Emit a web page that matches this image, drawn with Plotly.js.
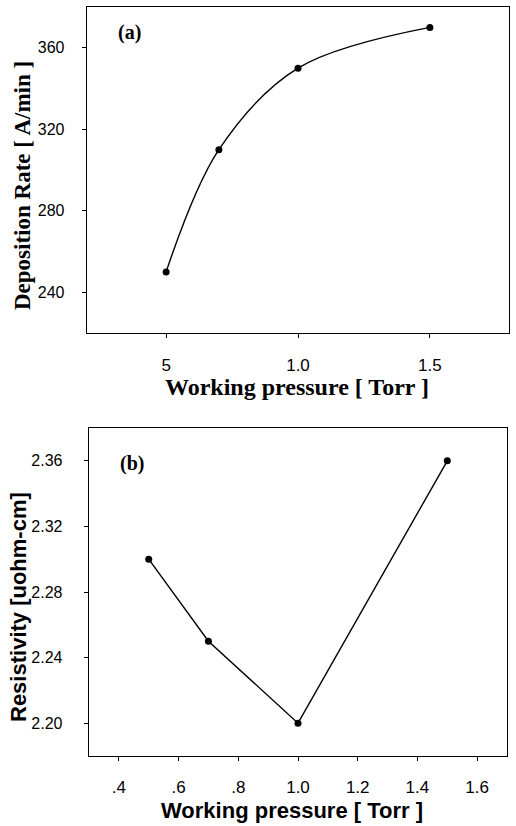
<!DOCTYPE html>
<html>
<head>
<meta charset="utf-8">
<script src="https://cdn.plot.ly/plotly-3.0.1.min.js"></script>
<style>html,body{margin:0;padding:0;background:#fff;}#chart{width:516px;height:826px;}</style>
</head>
<body>
<div id="chart"></div>
<script>
// Panel (a): deposition rate vs working pressure
const pressureA = [0.5, 0.7, 1.0, 1.5];
const depositionRate = [250, 310, 350, 370];
const xTickValsA = [0.5, 1.0, 1.5];
const xTickTextA = ['5', '1.0', '1.5'];
const yTickValsA = [240, 280, 320, 360];

// Panel (b): resistivity vs working pressure
const pressureB = [0.5, 0.7, 1.0, 1.5];
const resistivity = [2.30, 2.25, 2.20, 2.36];
const xTickValsB = [0.4, 0.6, 0.8, 1.0, 1.2, 1.4, 1.6];
const xTickTextB = ['.4', '.6', '.8', '1.0', '1.2', '1.4', '1.6'];
const yTickValsB = [2.20, 2.24, 2.28, 2.32, 2.36];
const yTickTextB = ['2.20', '2.24', '2.28', '2.32', '2.36'];

const serif = '"Liberation Serif", "Times New Roman", serif';
const sans = '"Liberation Sans", Arial, sans-serif';

const W = 516, H = 826;
const px = v => v / W;
const py = v => 1 - v / H;

const traces = [
  {
    x: pressureA, y: depositionRate, xaxis: 'x', yaxis: 'y',
    mode: 'lines+markers', type: 'scatter',
    line: {color: '#000', width: 1.4, shape: 'spline', smoothing: 1.0},
    marker: {color: '#000', size: 7}
  },
  {
    x: pressureB, y: resistivity, xaxis: 'x2', yaxis: 'y2',
    mode: 'lines+markers', type: 'scatter',
    line: {color: '#000', width: 1.4},
    marker: {color: '#000', size: 7}
  }
];

const axisCommon = {
  showline: true, mirror: true, linecolor: '#000', linewidth: 1.3,
  showgrid: false, zeroline: false,
  ticks: 'outside', ticklen: 4, tickwidth: 1, tickcolor: '#000',
  tickmode: 'array'
};

const layout = {
  width: W, height: H,
  margin: {l: 0, r: 0, t: 0, b: 0},
  paper_bgcolor: '#fff', plot_bgcolor: '#fff',
  showlegend: false,
  xaxis: Object.assign({}, axisCommon, {
    domain: [px(87), px(509)], range: [0.2, 1.8], anchor: 'y',
    tickvals: xTickValsA, ticktext: xTickTextA,
    tickfont: {family: sans, size: 17, color: '#000'}, ticklabelstandoff: 12
  }),
  yaxis: Object.assign({}, axisCommon, {
    domain: [py(333), py(7)], range: [220, 380], anchor: 'x',
    tickvals: yTickValsA, ticktext: yTickValsA.map(String),
    tickfont: {family: sans, size: 16, color: '#000'}, ticklabelstandoff: 14
  }),
  xaxis2: Object.assign({}, axisCommon, {
    domain: [px(89), px(507)], range: [0.3, 1.7], anchor: 'y2',
    tickvals: xTickValsB, ticktext: xTickTextB,
    tickfont: {family: sans, size: 17, color: '#000'}, ticklabelstandoff: 11
  }),
  yaxis2: Object.assign({}, axisCommon, {
    domain: [py(756), py(428)], range: [2.18, 2.38], anchor: 'x2',
    tickvals: yTickValsB, ticktext: yTickTextB,
    tickfont: {family: sans, size: 16, color: '#000'}, ticklabelstandoff: 18
  }),
  annotations: [
    {text: '<b>Working pressure [ Torr ]</b>', xref: 'paper', yref: 'paper',
     x: px(297), y: py(387), showarrow: false, xanchor: 'center', yanchor: 'middle',
     font: {family: serif, size: 24, color: '#000'}},
    {text: '<b>Deposition Rate [ A/min ]</b>', xref: 'paper', yref: 'paper',
     x: px(22), y: py(186), showarrow: false, textangle: -90, xanchor: 'center', yanchor: 'middle',
     font: {family: serif, size: 23, color: '#000'}},
    {text: '<b>(a)</b>', xref: 'paper', yref: 'paper',
     x: px(129), y: py(33), showarrow: false, xanchor: 'center', yanchor: 'middle',
     font: {family: serif, size: 20, color: '#000'}},
    {text: '<b>Working pressure [ Torr ]</b>', xref: 'paper', yref: 'paper',
     x: px(292), y: py(810), showarrow: false, xanchor: 'center', yanchor: 'middle',
     font: {family: sans, size: 22, color: '#000'}},
    {text: '<b>Resistivity [uohm-cm]</b>', xref: 'paper', yref: 'paper',
     x: px(18), y: py(607), showarrow: false, textangle: -90, xanchor: 'center', yanchor: 'middle',
     font: {family: sans, size: 22, color: '#000'}},
    {text: '<b>(b)</b>', xref: 'paper', yref: 'paper',
     x: px(132), y: py(463), showarrow: false, xanchor: 'center', yanchor: 'middle',
     font: {family: serif, size: 20, color: '#000'}}
  ]
};

Plotly.newPlot('chart', traces, layout, {staticPlot: true, displayModeBar: false});
</script>
</body>
</html>
